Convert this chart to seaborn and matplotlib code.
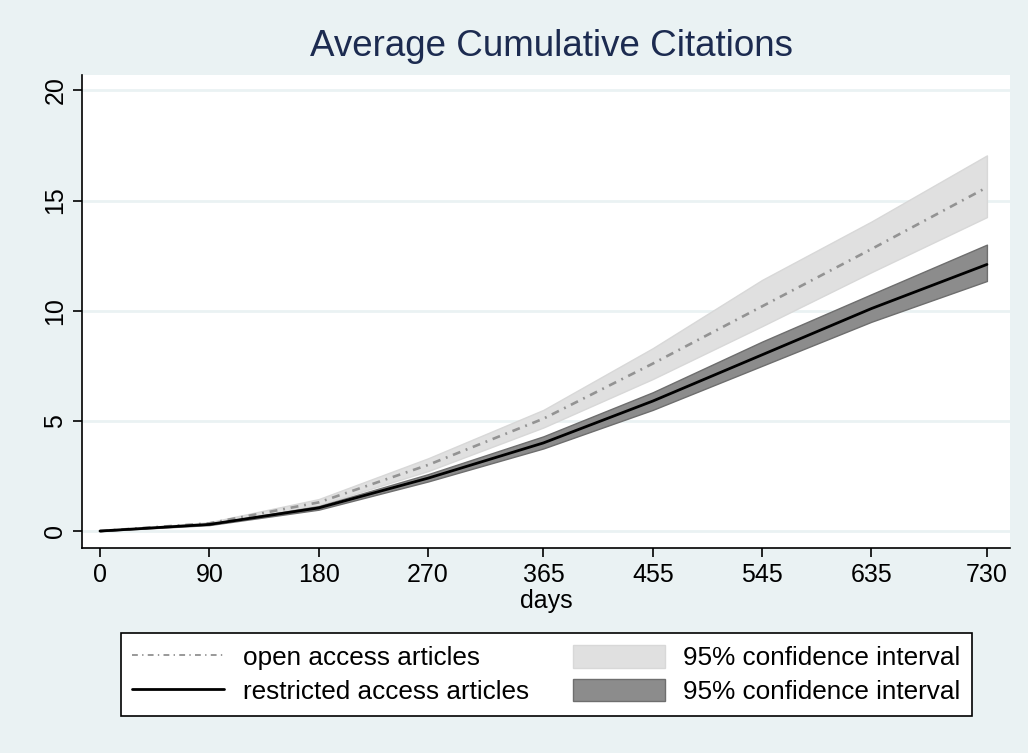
import numpy as np
import pandas as pd
import matplotlib
matplotlib.use("Agg")
import matplotlib.pyplot as plt
from matplotlib.patches import Patch
from matplotlib.lines import Line2D
import seaborn as sns

days = [0, 90, 180, 270, 365, 455, 545, 635, 730]
open_mean = [0, 0.35, 1.3, 3.0, 5.1, 7.6, 10.2, 12.8, 15.6]
open_lo = [0, 0.30, 1.18, 2.72, 4.70, 6.9, 9.3, 11.75, 14.25]
open_hi = [0, 0.40, 1.45, 3.3, 5.5, 8.3, 11.4, 14.05, 17.05]
restr_mean = [0, 0.30, 1.05, 2.4, 4.0, 5.9, 8.0, 10.1, 12.1]
restr_lo = [0, 0.27, 0.97, 2.25, 3.75, 5.5, 7.5, 9.5, 11.35]
restr_hi = [0, 0.33, 1.13, 2.58, 4.3, 6.3, 8.6, 10.75, 13.0]
x_ticks = [0, 90, 180, 270, 365, 455, 545, 635, 730]
y_ticks = [0, 5, 10, 15, 20]

title = "Average Cumulative Citations"
xlabel = "days"
labels = ["open access articles", "restricted access articles",
          "95% confidence interval", "95% confidence interval"]

sns.set_theme(style="white")
plt.rcParams['font.family'] = ['Liberation Sans', 'DejaVu Sans']
plt.rcParams['text.color'] = 'black'
plt.rcParams['axes.labelcolor'] = 'black'
plt.rcParams['xtick.color'] = 'black'
plt.rcParams['ytick.color'] = 'black'

bg = "#EAF2F3"
fig = plt.figure(figsize=(10.28, 7.53), dpi=100, facecolor=bg)
W, H = 1028, 753
ax = fig.add_axes([82 / W, (H - 548) / H, (1010 - 82) / W, (548 - 75) / H])
ax.set_facecolor("white")

df = pd.DataFrame({
    "days": days * 2,
    "cit": open_mean + restr_mean,
    "group": ["open"] * len(days) + ["restricted"] * len(days),
})

for yt in y_ticks:
    ax.axhline(yt, color=bg, lw=2, zorder=0)

ax.fill_between(days, open_lo, open_hi, color="#E0E0E0", edgecolor="#D8D8D8", lw=1, zorder=1)
ax.fill_between(days, restr_lo, restr_hi, color="#8C8C8C", edgecolor="#6E6E6E", lw=1, zorder=2)

dashdot = (0, (3, 2.2, 0.7, 2.2))
sns.lineplot(data=df[df.group == "open"], x="days", y="cit", ax=ax, color="#939393",
             lw=1.9, zorder=3, linestyle=dashdot)
sns.lineplot(data=df[df.group == "restricted"], x="days", y="cit", ax=ax, color="black",
             lw=2, zorder=4)

ax.set_xlim(-14.8, 749)
ax.set_ylim(-0.77, 20.7)
ax.set_xticks(x_ticks)
ax.set_yticks(y_ticks)
ax.set_xticklabels([str(t) for t in x_ticks], fontsize=18)
ax.set_yticklabels([str(t) for t in y_ticks], fontsize=18, rotation=90, va="center")
ax.tick_params(axis="both", direction="out", length=6.5, width=1.2, color="black",
               bottom=True, left=True, pad=4)
ax.set_xlabel(xlabel, fontsize=18, labelpad=2)
ax.set_ylabel("")
for s in ["top", "right"]:
    ax.spines[s].set_visible(False)
for s in ["left", "bottom"]:
    ax.spines[s].set_color("black")
    ax.spines[s].set_linewidth(1.2)

fig.text(552 / W, 1 - 46 / H, title, ha="center", va="center", fontsize=26.5,
         color="#1C2B50")

handles = [
    Line2D([0], [0], color="#999999", lw=1.4, linestyle=dashdot),
    Line2D([0], [0], color="black", lw=2),
    Patch(facecolor="#E0E0E0", edgecolor="#D8D8D8"),
    Patch(facecolor="#8C8C8C", edgecolor="#6E6E6E"),
]
leg = fig.legend(handles, labels, ncol=2, loc="center",
                 bbox_to_anchor=(546.5 / W, 1 - 674.5 / H),
                 frameon=True, fancybox=False, edgecolor="black", facecolor="white",
                 framealpha=1, prop={"size": 18.8},
                 handlelength=3.5, handleheight=0.95, columnspacing=1.7,
                 labelspacing=0.32, borderpad=0.45, handletextpad=0.72)
leg.get_frame().set_linewidth(1.2)

fig.savefig("out.png", dpi=100, facecolor=bg)
